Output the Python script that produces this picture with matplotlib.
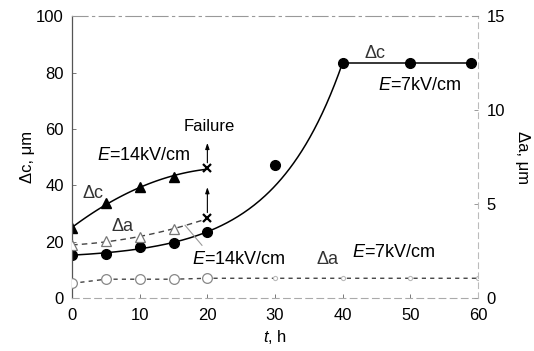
import numpy as np
import matplotlib
matplotlib.use("Agg")
import matplotlib.pyplot as plt

plt.rcParams['font.family'] = ['Liberation Sans', 'DejaVu Sans']
plt.rcParams['mathtext.fontset'] = 'custom'
plt.rcParams['mathtext.it'] = 'Liberation Sans:italic'
plt.rcParams['mathtext.rm'] = 'Liberation Sans'

# Elongation along c (left axis, um) and a (right axis, um) versus time t (h)
t_c14 = [0, 5, 10, 15]
dc_14 = [24.8, 33.6, 39.3, 42.8]
t_fail = 20
dc_14_fail = 46.0

t_a14 = [0, 5, 10, 15]
da_14 = [2.8, 3.05, 3.26, 3.65]
da_14_fail = 4.25

t_c7 = [0, 5, 10, 15, 20, 30, 40, 50, 59]
dc_7 = [15.2, 15.6, 18.2, 19.6, 23.5, 47.1, 83.5, 83.5, 83.5]

t_a7 = [0, 5, 10, 15, 20, 30, 40, 50, 60]
da_7 = [0.78, 1.0, 1.0, 1.0, 1.05, 1.05, 1.05, 1.05, 1.05]

x_ticks = [0, 10, 20, 30, 40, 50, 60]
yl_ticks = [0, 20, 40, 60, 80, 100]
yr_ticks = [0, 5, 10, 15]

fig = plt.figure(figsize=(5.34, 3.51), dpi=100)
ax = fig.add_axes([0.135, 0.151, 0.76, 0.803])
ax2 = ax.twinx()

ax.set_xlim(0, 60)
ax.set_ylim(0, 100)
ax2.set_ylim(0, 15)

# E = 14 kV/cm, delta c: quadratic trend up to failure
tc = np.array(t_c14 + [t_fail], float)
yc = np.array(dc_14 + [dc_14_fail], float)
p = np.polyfit(tc, yc, 2)
tt = np.linspace(0, t_fail, 100)
ax.plot(tt, np.polyval(p, tt), color='black', lw=1.1)
ax.plot(t_c14, dc_14, ls='none', marker='^', ms=7, color='black')
ax.plot([t_fail], [dc_14_fail], ls='none', marker='x', ms=6, mew=1.6, color='black')

# E = 14 kV/cm, delta a
ta = np.array(t_a14 + [t_fail], float)
ya = np.array(da_14 + [da_14_fail], float)
pa = np.polyfit(ta, ya, 2)
ax2.plot(tt, np.polyval(pa, tt), color='#444444', lw=1.0, ls=(0, (4, 3)))
ax2.plot(t_a14, da_14, ls='none', marker='^', ms=7, mfc='white', mec='#777777', mew=0.9)
ax2.plot([t_fail], [da_14_fail], ls='none', marker='x', ms=6, mew=1.6, color='black')

# E = 7 kV/cm, delta c: exponential rise through t = 0, 20, 40, then plateau
tc7 = np.array(t_c7, float)
yc7 = np.array(dc_7, float)
y0, y20, y40 = yc7[0], yc7[4], yc7[6]
u = (y40 - y0) / (y20 - y0) - 1.0
b = (y20 - y0) / (u - 1.0)
a = y0 - b
tau = 20.0 / np.log(u)
te = np.linspace(0, 40, 200)
ax.plot(te, a + b * np.exp(te / tau), color='black', lw=1.1)
ax.plot(tc7[6:], yc7[6:], color='black', lw=1.1)
ax.plot(tc7, yc7, ls='none', marker='o', ms=7, color='black')

# E = 7 kV/cm, delta a
ax2.plot(t_a7, da_7, color='#444444', lw=1.0, ls=(0, (3, 3)))
ax2.plot(t_a7[:5], da_7[:5], ls='none', marker='o', ms=7, mfc='white', mec='#888888', mew=0.9)
ax2.plot(t_a7[5:], da_7[5:], ls='none', marker='o', ms=3, mfc='white', mec='#bbbbbb', mew=0.8)

# Failure arrows
arrow = dict(arrowstyle='-|>,head_length=0.35,head_width=0.12', color='black', lw=0.8,
             shrinkA=4, shrinkB=0)
ax.annotate('', xy=(t_fail, 55), xytext=(t_fail, dc_14_fail), arrowprops=arrow)
ax.annotate('', xy=(t_fail, 39.3), xytext=(t_fail, da_14_fail / 15 * 100), arrowprops=arrow)
ax.text(t_fail + 0.3, 61, 'Failure', ha='center', va='center', fontsize=12)

# Curve labels
fs = 13
ax.text(10.6, 50.5, '$E$=14kV/cm', ha='center', va='center', fontsize=fs)
ax.text(3.1, 37.2, 'Δc', ha='center', va='center', fontsize=fs, color='#333333')
ax.text(7.4, 25.2, 'Δa', ha='center', va='center', fontsize=fs, color='#333333')
ax.text(24.7, 13.8, '$E$=14kV/cm', ha='center', va='center', fontsize=fs)
ax.plot([16.7, 19.2], [25.8, 18.7], color='#999999', lw=0.8)
ax.text(37.8, 13.5, 'Δa', ha='center', va='center', fontsize=fs, color='#333333')
ax.text(47.6, 16.3, '$E$=7kV/cm', ha='center', va='center', fontsize=fs)
ax.text(44.8, 86.7, 'Δc', ha='center', va='center', fontsize=fs, color='#333333')
ax.text(51.4, 75.4, '$E$=7kV/cm', ha='center', va='center', fontsize=fs)

# Axes styling
ax.set_xticks(x_ticks)
ax.set_yticks(yl_ticks)
ax2.set_yticks(yr_ticks)
ax.tick_params(direction='in', length=3, width=0.7, labelsize=12, pad=6, color='#777777')
ax2.tick_params(direction='in', length=3, width=0.7, labelsize=12, pad=6, color='#999999')
ax.tick_params(axis='x', pad=7)

for sp in ('top', 'right', 'bottom', 'left'):
    ax.spines[sp].set_visible(False)
    ax2.spines[sp].set_visible(False)
ax.spines['left'].set_visible(True)
ax.spines['left'].set_color('#555555')
ax.spines['left'].set_linewidth(0.9)
ax.spines['bottom'].set_visible(True)
ax.spines['bottom'].set_color('#aaaaaa')
ax.spines['bottom'].set_linestyle((0, (6, 4)))
ax.spines['bottom'].set_linewidth(0.8)
ax2.spines['right'].set_visible(True)
ax2.spines['right'].set_color('#bbbbbb')
ax2.spines['right'].set_linestyle((0, (5, 4)))
ax2.spines['right'].set_linewidth(0.8)
ax2.spines['top'].set_visible(True)
ax2.spines['top'].set_color('#999999')
ax2.spines['top'].set_linestyle((0, (14, 4, 2, 4)))
ax2.spines['top'].set_linewidth(0.8)

ax.set_xlabel('$t$, h', fontsize=12, labelpad=4)
ax.set_ylabel('Δc, μm', fontsize=12, labelpad=1)
ax2.set_ylabel('Δa, μm', fontsize=12, rotation=-90, labelpad=18)

fig.savefig('out.png', dpi=100)
